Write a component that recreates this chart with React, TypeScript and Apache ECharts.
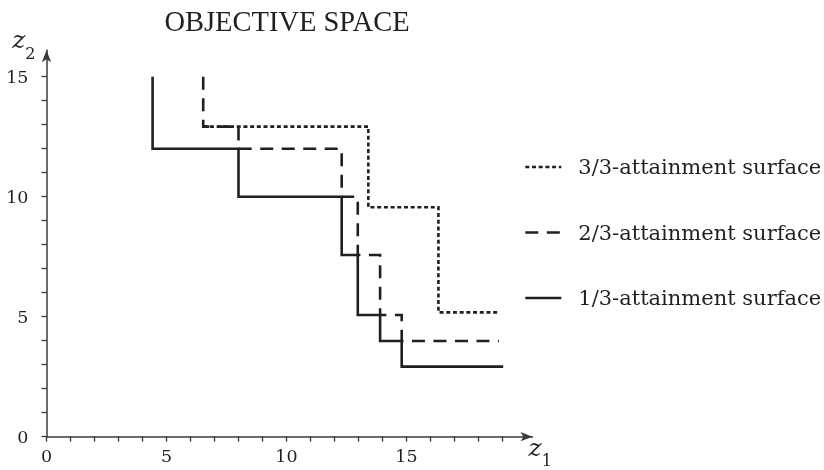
import React, { useEffect, useRef } from "react";
import * as echarts from "echarts";

const SERIES_NAMES = ["3/3-attainment surface", "2/3-attainment surface", "1/3-attainment surface"];

const surface33: number[][] = [
  [6.53, 12.92], [13.41, 12.92], [13.41, 9.56], [16.33, 9.56], [16.33, 5.18], [18.85, 5.18],
];
const surface23: number[][] = [
  [6.53, 15], [6.53, 12.92], [8.0, 12.92], [8.0, 12.0], [12.3, 12.0], [12.3, 10.0],
  [12.97, 10.0], [12.97, 7.57], [13.9, 7.57], [13.9, 5.07], [14.8, 5.07], [14.8, 3.99], [18.85, 3.99],
];
const surface13: number[][] = [
  [4.42, 15], [4.42, 12.0], [8.0, 12.0], [8.0, 10.0], [12.3, 10.0], [12.3, 7.57],
  [12.97, 7.57], [12.97, 5.07], [13.9, 5.07], [13.9, 3.99], [14.8, 3.99], [14.8, 2.92], [19.03, 2.92],
];

const X_TICKS = [0, 1, 2, 3, 4, 5, 6, 7, 8, 9, 10, 11, 12, 13, 14, 15, 16, 17, 18, 19];
const X_LABELS = [0, 5, 10, 15];
const Y_TICKS = [0, 1, 2, 3, 4, 5, 6, 7, 8, 9, 10, 11, 12, 13, 14, 15];
const Y_LABELS = [0, 5, 10, 15];

const INK = "#231f20";
const AXIS = "#3a3a3a";
const SERIF = "DejaVu Serif";

export default function App() {
  const ref = useRef<HTMLDivElement>(null);
  useEffect(() => {
    if (!ref.current) return;
    const chart = echarts.init(ref.current, null, { renderer: "svg" });
    const nameRich = {
      z: { fontFamily: SERIF, fontStyle: "italic", fontSize: 25, color: INK, lineHeight: 26, verticalAlign: "top" },
      s: { fontFamily: SERIF, fontSize: 16, color: INK, lineHeight: 34, verticalAlign: "bottom" },
    };
    const mk = (name: string, data: number[][], type: any) => ({
      name,
      type: "line",
      data,
      symbol: "none",
      silent: true,
      color: INK,
      lineStyle: { color: INK, width: 2.6, type, cap: "butt", join: "miter" },
      emphasis: { disabled: true },
    });
    chart.setOption({
      animation: false,
      title: {
        text: "OBJECTIVE SPACE",
        left: 282,
        textAlign: "center",
        top: 2,
        textStyle: { fontFamily: "Liberation Serif", fontSize: 28.5, fontWeight: "normal", color: INK },
      },
      grid: { left: 46.5, right: 291.5, top: 50.3, bottom: 33.3, containLabel: false, outerBoundsMode: "none" },
      legend: {
        data: SERIES_NAMES,
        orient: "vertical",
        left: 519,
        top: 151,
        itemWidth: 36,
        itemHeight: 14,
        itemGap: 43.5,
        selectedMode: false,
        itemStyle: { opacity: 0 },
        lineStyle: { width: 2.6 },
        textStyle: { fontFamily: SERIF, fontSize: 21, color: INK, lineHeight: 22, padding: [0, 0, 0, 12] },
      },
      xAxis: {
        type: "value",
        min: 0,
        max: 20.25,
        splitLine: { show: false },
        axisLine: {
          show: true,
          onZero: false,
          symbol: ["none", "arrow"],
          symbolSize: [7, 12],
          lineStyle: { color: AXIS, width: 1.5 },
        },
        axisTick: { show: true, customValues: X_TICKS, length: 5, lineStyle: { color: AXIS, width: 1.3 } },
        axisLabel: { customValues: X_LABELS, margin: 10, fontFamily: SERIF, fontSize: 17.5, color: INK },
        name: "{z|z}{s|1}",
        nameLocation: "end",
        nameGap: -4,
        nameTextStyle: { rich: nameRich, padding: [30, 0, 0, 0] },
      },
      yAxis: {
        type: "value",
        min: 0,
        max: 16.1,
        splitLine: { show: false },
        axisLine: {
          show: true,
          onZero: false,
          symbol: ["none", "arrow"],
          symbolSize: [7, 12],
          lineStyle: { color: AXIS, width: 1.5 },
        },
        axisTick: { show: true, customValues: Y_TICKS, length: 5, lineStyle: { color: AXIS, width: 1.3 } },
        axisLabel: { customValues: Y_LABELS, margin: 18, fontFamily: SERIF, fontSize: 17.5, color: INK },
        name: "{z|z}{s|2}",
        nameLocation: "end",
        nameGap: -11,
        nameTextStyle: { rich: nameRich, align: "right", padding: [0, 11, 0, 0] },
      },
      series: [
        mk(SERIES_NAMES[0], surface33, [4, 2.7]),
        mk(SERIES_NAMES[1], surface23, [13, 8.5]),
        mk(SERIES_NAMES[2], surface13, "solid"),
      ],
    });
    return () => chart.dispose();
  }, []);
  return <div ref={ref} style={{ position: "fixed", left: 0, top: 0, width: 824, height: 470 }} />;
}
